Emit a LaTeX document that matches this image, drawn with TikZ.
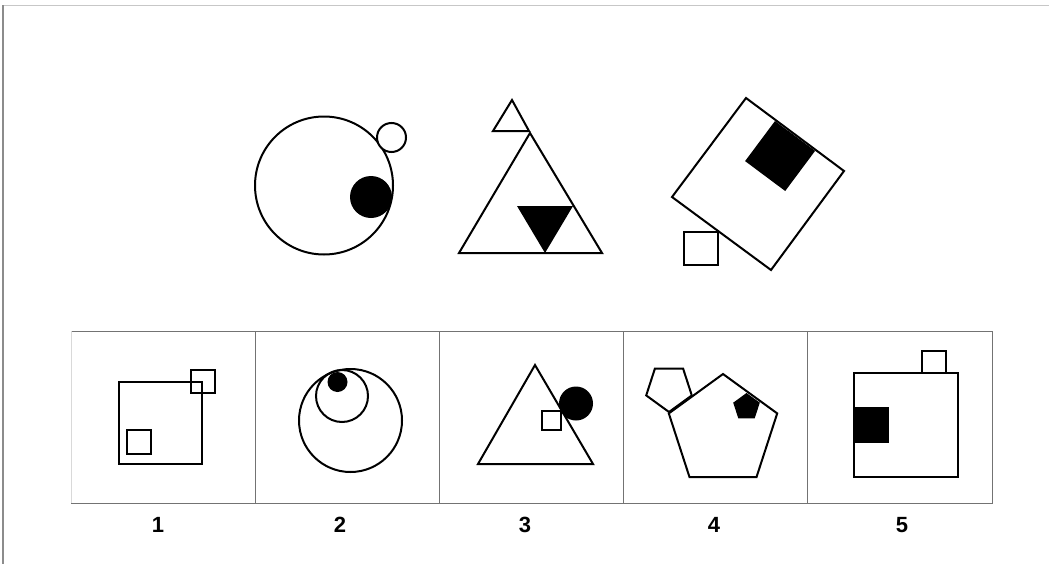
\documentclass[tikz,border=0pt]{standalone}
\usepackage{fontspec}
\setmainfont{Liberation Sans}
\begin{document}
\begin{tikzpicture}[x=0.75pt,y=-0.75pt,
  shp/.style={line width=1.5pt, line join=miter},
  blk/.style={fill=black},
  panelline/.style={draw=black!55, line width=0.75pt},
  lbl/.style={font=\fontsize{16.5}{18}\selectfont\bfseries, inner sep=0pt}]
\useasboundingbox (0,0) rectangle (1049,564);
\fill[white] (0,0) rectangle (1049,564);
% outer frame
\draw[black!22, line width=0.75pt] (3,5) -- (1049,5);
\draw[black!45, line width=1.2pt] (3,5) -- (3,564);

% ---- top row: figure 1 (circles)
\draw[shp] (324,185.5) circle (69);
\draw[shp, fill=white] (391.5,137.5) circle (14.5);
\fill[blk] (371,197) circle (21);

% ---- top row: figure 2 (triangles)
\draw[shp] (459,253) -- (602,253) -- (530,133) -- cycle;
\draw[shp] (493,131) -- (529,131) -- (512,100) -- cycle;
\fill[blk] (517,206) -- (573,206) -- (545,253) -- cycle;

% ---- top row: figure 3 (squares)
\draw[shp] (746,98) -- (844,171) -- (771,270) -- (672,197) -- cycle;
\fill[blk] (775,121) -- (815.1,150.9) -- (785.2,191) -- (745.1,161.1) -- cycle;
\draw[shp] (684,232) rectangle (718,265);

% ---- answer panels
\draw[panelline] (71,331) -- (992,331) -- (992,503) -- (71,503);
\draw[black!15, line width=0.75pt] (71,331) -- (71,503);
\foreach \xx in {255,439,623,807} \draw[panelline] (\xx,331) -- (\xx,503);

% panel 1
\draw[shp] (119,382) rectangle (202,464);
\draw[shp] (191,370) rectangle (215,393);
\draw[shp] (127,430) rectangle (151,454);

% panel 2
\draw[shp] (350.5,420.5) circle (51.5);
\draw[shp] (342,396) circle (26);
\fill[blk] (337.5,382) circle (10);

% panel 3
\draw[shp] (478,464) -- (593,464) -- (535,365) -- cycle;
\fill[blk] (576,403.5) circle (17);
\draw[shp] (542,411) rectangle (561,430);

% panel 4
\draw[shp] (723,374) -- (777.2,413.4) -- (756.5,477.1) -- (689.5,477.1) -- (668.8,413.4) -- cycle;
\draw[shp] (669,412) -- (691.8,395.4) -- (683.1,368.6) -- (654.9,368.6) -- (646.2,395.4) -- cycle;
\fill[blk] (746.5,393) -- (759.8,402.7) -- (754.7,418.3) -- (738.3,418.3) -- (733.2,402.7) -- cycle;

% panel 5
\draw[shp] (854,373) rectangle (958,477);
\draw[shp] (922,351) rectangle (946,373);
\fill[blk] (854,407) rectangle (889,443);

% labels
\node[lbl] (l1) at (158,525) {1};
\node[lbl] (l2) at (340,525) {2};
\node[lbl] (l3) at (525,525) {3};
\node[lbl] (l4) at (714,525) {4};
\node[lbl] (l5) at (902,525) {5};
\end{tikzpicture}
\end{document}
